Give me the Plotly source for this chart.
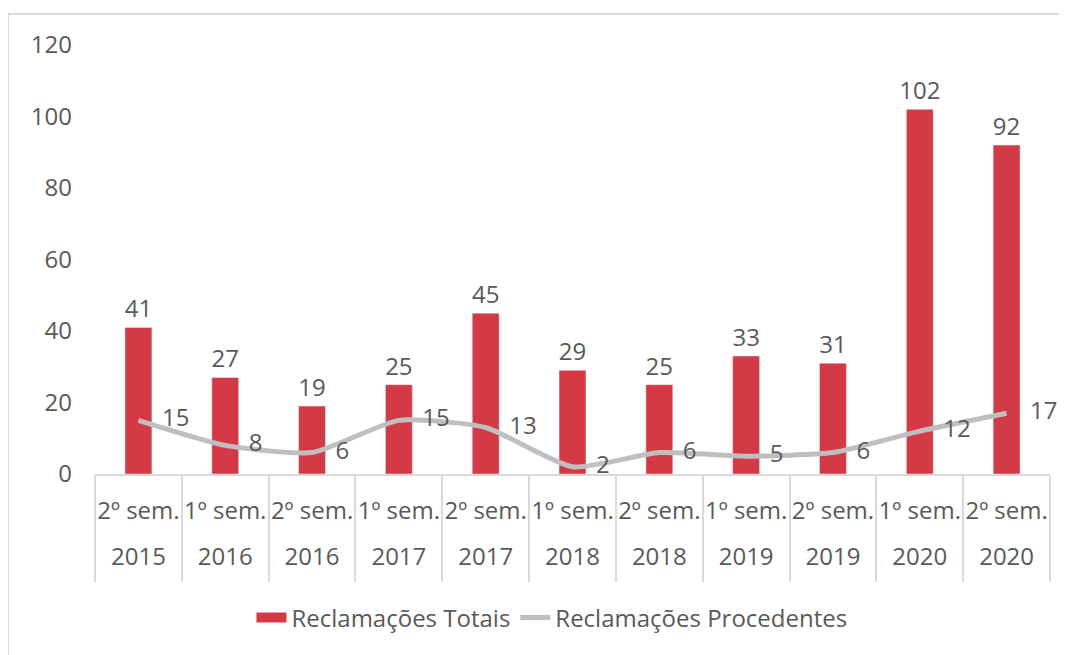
import plotly.graph_objects as go

semestres = ["2º sem.", "1º sem.", "2º sem.", "1º sem.", "2º sem.", "1º sem.",
             "2º sem.", "1º sem.", "2º sem.", "1º sem.", "2º sem."]
anos = ["2015", "2016", "2016", "2017", "2017", "2018",
        "2018", "2019", "2019", "2020", "2020"]
totais = [41, 27, 19, 25, 45, 29, 25, 33, 31, 102, 92]
procedentes = [15, 8, 6, 15, 13, 2, 6, 5, 6, 12, 17]

pos = list(range(len(semestres)))
txt = "#595959"
fnt = "Open Sans"
fs = 24
vermelho = "#D43A46"
cinza = "#BFBFBF"

bars = go.Bar(x=pos, y=totais, name="Reclamações Totais", marker_color=vermelho,
              width=0.31, text=totais, textposition="outside", constraintext="none",
              textfont=dict(size=fs, color=txt, family=fnt), cliponaxis=False,
              showlegend=False)
line = go.Scatter(x=pos, y=procedentes, name="Reclamações Procedentes", mode="lines",
                  line=dict(color=cinza, width=5, shape="spline", smoothing=0.55),
                  showlegend=False)
# labels of the line, pushed right by an invisible marker
line_lbl = go.Scatter(x=pos, y=procedentes, mode="markers+text", showlegend=False,
                      marker=dict(size=36, opacity=0, line=dict(width=0)),
                      text=procedentes, textposition="middle right", hoverinfo="skip",
                      textfont=dict(size=fs, color=txt, family=fnt), cliponaxis=False)
# legend entries (wide swatches like the original)
leg_tot = go.Scatter(x=[None], y=[None], mode="lines", name="Reclamações Totais",
                     line=dict(color=vermelho, width=16))
leg_proc = go.Scatter(x=[None], y=[None], mode="lines", name="Reclamações Procedentes",
                      line=dict(color=cinza, width=5))
# invisible trace to carry the year row on a second x axis
anos_tr = go.Scatter(x=pos, y=[None] * len(pos), xaxis="x2", showlegend=False, hoverinfo="skip")

fig = go.Figure(data=[bars, line, line_lbl, leg_tot, leg_proc, anos_tr])
fig.update_layout(
    width=1059, height=647,
    margin=dict(l=87, r=17, t=37, b=181, autoexpand=False),
    paper_bgcolor="white", plot_bgcolor="white",
    font=dict(family=fnt, color=txt, size=fs),
    xaxis=dict(range=[-0.5, 10.5], tickvals=pos, ticktext=semestres, showgrid=False,
               zeroline=False, showline=True, linecolor="#D9D9D9", linewidth=2,
               ticks="", ticklabelstandoff=14, tickfont=dict(size=fs), automargin=False,
               minor=dict(tickvals=[p - 0.5 for p in pos] + [pos[-1] + 0.5],
                          ticks="outside", ticklen=106, tickcolor="#D9D9D9", tickwidth=2)),
    xaxis2=dict(range=[-0.5, 10.5], tickvals=pos, ticktext=anos, overlaying="x", side="bottom",
                anchor="y", showgrid=False, zeroline=False, showline=False, ticks="",
                ticklabelstandoff=66, tickfont=dict(size=fs), automargin=False),
    yaxis=dict(range=[0, 120], dtick=20, showgrid=False, zeroline=False, showline=False,
               ticks="", ticklabelstandoff=22, tickfont=dict(size=fs), automargin=False),
    legend=dict(orientation="h", x=0.4785, xanchor="center", y=-0.3357, yanchor="middle",
                font=dict(size=fs, color=txt), itemwidth=30),
    shapes=[dict(type="rect", xref="paper", yref="paper", x0=-0.0911, x1=1.3, y0=-2, y1=1.0723,
                 line=dict(color="#D9D9D9", width=2))],
)
fig.write_html("out.html")
